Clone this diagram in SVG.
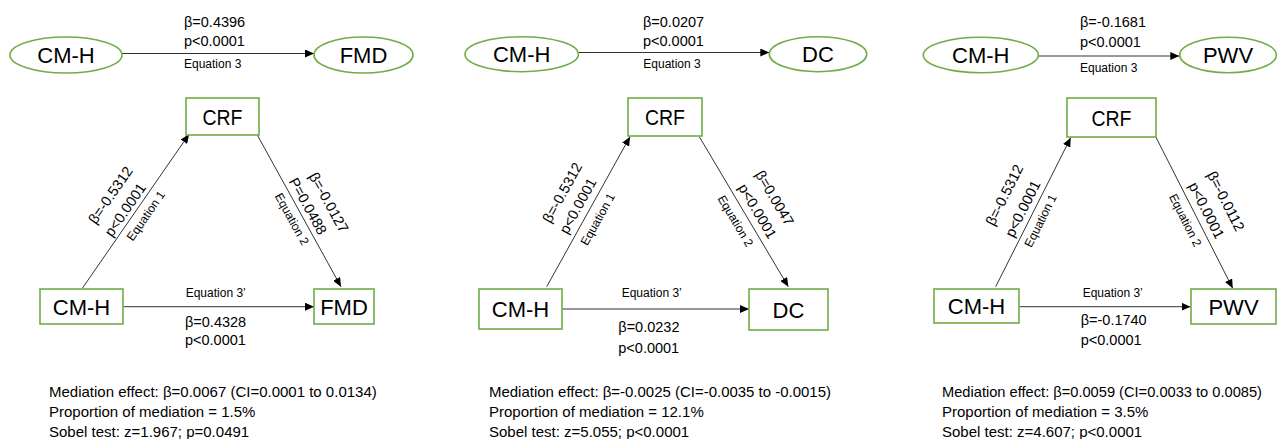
<svg xmlns="http://www.w3.org/2000/svg" width="1277" height="439" viewBox="0 0 1277 439">
<style>
text{font-family:"Liberation Sans",Arial,sans-serif;fill:#000}
.node{fill:#fff;stroke:#70AD47;stroke-width:1.6}
.lbl{font-size:22px;text-anchor:middle}
.coef{font-size:14.5px}
.eq{font-size:12px}
.rc{font-size:14.5px;text-anchor:middle}
.req{font-size:12px;text-anchor:middle}
.note{font-size:15px}
.edge{stroke:#333;stroke-width:1;fill:none;marker-end:url(#ah)}
</style>
<defs>
<marker id="ah" markerUnits="userSpaceOnUse" markerWidth="10" markerHeight="8" refX="9" refY="4" orient="auto">
<path d="M0,0 L9,4 L0,8 Z" fill="#000"/>
</marker>
</defs>
<rect width="1277" height="439" fill="#fff"/>

<g id="connectors">
<line class="edge" x1="122" y1="53.5" x2="314" y2="53.5"/>
<line class="edge" x1="82.3" y1="288.3" x2="189" y2="134.3"/>
<line class="edge" x1="257.3" y1="135" x2="341" y2="286.7"/>
<line class="edge" x1="122.7" y1="306.7" x2="314" y2="306.7"/>

<line class="edge" x1="578.3" y1="52.5" x2="769.3" y2="52.5"/>
<line class="edge" x1="546.7" y1="286.7" x2="630" y2="136.7"/>
<line class="edge" x1="699.3" y1="136.7" x2="788.3" y2="286.7"/>
<line class="edge" x1="562.3" y1="309" x2="749" y2="309"/>

<line class="edge" x1="1038.3" y1="56" x2="1179.3" y2="56"/>
<line class="edge" x1="995.7" y1="286.7" x2="1070.7" y2="137.7"/>
<line class="edge" x1="1156" y1="137.3" x2="1232.7" y2="288.3"/>
<line class="edge" x1="1019" y1="306.7" x2="1190.5" y2="306.7"/>
</g>

<g id="labels">
<text class="coef" x="184" y="26.7">β=0.4396</text>
<text class="coef" x="184" y="45.7">p&lt;0.0001</text>
<text class="eq" x="184" y="68">Equation 3</text>
<g transform="translate(135.7,211.3) rotate(-55.3)">
<text class="rc" x="-1" y="-25">β=-0.5312</text>
<text class="rc" x="-4.7" y="-4.5">p&lt;0.0001</text>
<text class="req" x="2" y="15">Equation 1</text>
</g>
<g transform="translate(299.2,210.9) rotate(61.1)">
<text class="rc" x="7" y="-25">β=-0.0127</text>
<text class="rc" x="0" y="-5">P=0.0488</text>
<text class="req" x="3.6" y="14.5">Equation 2</text>
</g>
<text class="eq" x="185.7" y="296.7">Equation 3’</text>
<text class="coef" x="185" y="327">β=0.4328</text>
<text class="coef" x="185" y="345">p&lt;0.0001</text>

<text class="coef" x="643" y="26.7">β=0.0207</text>
<text class="coef" x="643" y="45.7">p&lt;0.0001</text>
<text class="eq" x="643.3" y="68">Equation 3</text>
<g transform="translate(588.3,211.7) rotate(-60.9)">
<text class="rc" x="4" y="-27">β=-0.5312</text>
<text class="rc" x="0" y="-7">p&lt;0.0001</text>
<text class="req" x="-2" y="16">Equation 1</text>
</g>
<g transform="translate(743.8,211.7) rotate(59.3)">
<text class="rc" x="4" y="-28.5">β=0.0047</text>
<text class="rc" x="6.6" y="-7">p&lt;0.0001</text>
<text class="req" x="3.7" y="16">Equation 2</text>
</g>
<text class="eq" x="621.7" y="296.7">Equation 3’</text>
<text class="coef" x="618.3" y="332">β=0.0232</text>
<text class="coef" x="618.3" y="353">p&lt;0.0001</text>

<text class="coef" x="1080" y="27.3">β=-0.1681</text>
<text class="coef" x="1080" y="46.7">p&lt;0.0001</text>
<text class="eq" x="1080" y="71.7">Equation 3</text>
<g transform="translate(1033.2,212.2) rotate(-63.3)">
<text class="rc" x="2.4" y="-28.5">β=-0.5312</text>
<text class="rc" x="-1.7" y="-6">p&lt;0.0001</text>
<text class="req" x="-4.3" y="14.5">Equation 1</text>
</g>
<g transform="translate(1194.3,212.8) rotate(63.1)">
<text class="rc" x="4" y="-28.4">β=-0.0112</text>
<text class="rc" x="3.4" y="-7">p&lt;0.0001</text>
<text class="req" x="2.5" y="15.5">Equation 2</text>
</g>
<text class="eq" x="1082.7" y="296.7">Equation 3’</text>
<text class="coef" x="1080.7" y="325">β=-0.1740</text>
<text class="coef" x="1080.7" y="345">p&lt;0.0001</text>
</g>

<g id="p1-top-cmh"><ellipse class="node" cx="66" cy="55" rx="56" ry="18"/><text class="lbl" x="66" y="63">CM-H</text></g>
<g id="p1-top-fmd"><ellipse class="node" cx="363.5" cy="55" rx="49.5" ry="18"/><text class="lbl" x="363.5" y="63">FMD</text></g>
<g id="p1-crf"><rect class="node" x="186" y="98" width="73" height="37"/><text class="lbl" x="222.5" y="124.5" textLength="40" lengthAdjust="spacingAndGlyphs">CRF</text></g>
<g id="p1-cmh"><rect class="node" x="40" y="289" width="83" height="35"/><text class="lbl" x="81.5" y="314.5">CM-H</text></g>
<g id="p1-fmd"><rect class="node" x="314" y="289" width="60" height="35"/><text class="lbl" x="344" y="314.5">FMD</text></g>

<g id="p2-top-cmh"><ellipse class="node" cx="521.7" cy="54.2" rx="56.7" ry="17.5"/><text class="lbl" x="521.7" y="62">CM-H</text></g>
<g id="p2-top-dc"><ellipse class="node" cx="818" cy="54.2" rx="48.7" ry="17.5"/><text class="lbl" x="818" y="62">DC</text></g>
<g id="p2-crf"><rect class="node" x="628" y="98" width="74" height="38"/><text class="lbl" x="665" y="125" textLength="40" lengthAdjust="spacingAndGlyphs">CRF</text></g>
<g id="p2-cmh"><rect class="node" x="479" y="289" width="83" height="40"/><text class="lbl" x="520.5" y="317">CM-H</text></g>
<g id="p2-dc"><rect class="node" x="749" y="289" width="79" height="41"/><text class="lbl" x="788.5" y="317.5">DC</text></g>

<g id="p3-top-cmh"><ellipse class="node" cx="980.8" cy="55" rx="57.5" ry="17.7"/><text class="lbl" x="980.8" y="63">CM-H</text></g>
<g id="p3-top-pwv"><ellipse class="node" cx="1228" cy="55" rx="48.3" ry="17.7"/><text class="lbl" x="1228" y="63">PWV</text></g>
<g id="p3-crf"><rect class="node" x="1067" y="98" width="89" height="39"/><text class="lbl" x="1111.5" y="125.5" textLength="40" lengthAdjust="spacingAndGlyphs">CRF</text></g>
<g id="p3-cmh"><rect class="node" x="934" y="289" width="85" height="34"/><text class="lbl" x="976.5" y="314">CM-H</text></g>
<g id="p3-pwv"><rect class="node" x="1191" y="289" width="85" height="35"/><text class="lbl" x="1233.5" y="314.5">PWV</text></g>

<g id="notes">
<text class="note" x="49" y="397">Mediation effect: β=0.0067 (CI=0.0001 to 0.0134)</text>
<text class="note" x="49" y="417">Proportion of mediation = 1.5%</text>
<text class="note" x="49" y="437">Sobel test: z=1.967; p=0.0491</text>
<text class="note" x="489" y="397" textLength="342" lengthAdjust="spacingAndGlyphs">Mediation effect: β=-0.0025 (CI=-0.0035 to -0.0015)</text>
<text class="note" x="489" y="417">Proportion of mediation = 12.1%</text>
<text class="note" x="489" y="437">Sobel test: z=5.055; p&lt;0.0001</text>
<text class="note" x="942" y="397" textLength="320" lengthAdjust="spacingAndGlyphs">Mediation effect: β=0.0059 (CI=0.0033 to 0.0085)</text>
<text class="note" x="942" y="417">Proportion of mediation = 3.5%</text>
<text class="note" x="942" y="437">Sobel test: z=4.607; p&lt;0.0001</text>
</g>
</svg>
